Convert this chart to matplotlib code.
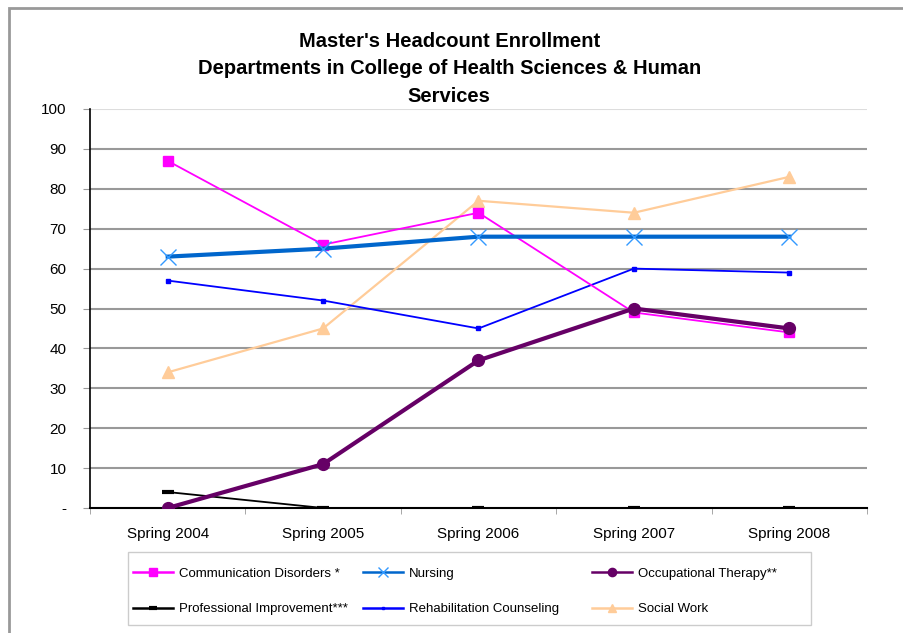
import matplotlib
matplotlib.use("Agg")
from matplotlib import pyplot as plt
from matplotlib.patches import Rectangle

plt.rcParams['font.family'] = ['Liberation Sans', 'DejaVu Sans']

# data
terms = ['Spring 2004', 'Spring 2005', 'Spring 2006', 'Spring 2007', 'Spring 2008']
comm_disorders = [87, 66, 74, 49, 44]
nursing = [63, 65, 68, 68, 68]
occ_therapy = [0, 11, 37, 50, 45]
prof_improvement = [4, 0, 0, 0, 0]
rehab_counseling = [57, 52, 45, 60, 59]
social_work = [34, 45, 77, 74, 83]

y_ticks = [0, 10, 20, 30, 40, 50, 60, 70, 80, 90, 100]
y_labels = ['-', '10', '20', '30', '40', '50', '60', '70', '80', '90', '100']

W, H = 904, 633
fig = plt.figure(figsize=(W / 100, H / 100), dpi=100)
ax = fig.add_axes([90 / W, 1 - 508 / H, (867 - 90) / W, (508 - 109) / H])

x = list(range(len(terms)))

# draw series (back to front roughly like the original)
l_sw, = ax.plot(x, social_work, color='#FFCC99', lw=1.6, marker='^', ms=9,
                label='Social Work', zorder=3)
l_rc, = ax.plot(x, rehab_counseling, color='#0000FF', lw=1.3, marker='s', ms=3,
                label='Rehabilitation Counseling', zorder=3)
l_pi, = ax.plot(x, prof_improvement, color='black', lw=1.3, marker='_', ms=9, mew=3,
                label='Professional Improvement***', zorder=3)
l_ot, = ax.plot(x, occ_therapy, color='#660066', lw=3, marker='o', ms=8.5,
                label='Occupational Therapy**', zorder=4)
l_cd, = ax.plot(x, comm_disorders, color='#FF00FF', lw=1.3, marker='s', ms=7.5,
                label='Communication Disorders *', zorder=3)
l_nu, = ax.plot(x, nursing, color='#0066CC', lw=3, marker='x', ms=11, mew=1,
                mec='#3399FF', label='Nursing', zorder=3)

# axes styling
ax.set_xlim(-0.5, len(terms) - 0.5)
ax.set_ylim(0, 100)
ax.set_yticks(y_ticks)
ax.set_yticklabels(y_labels)
ax.set_xticks(x)
ax.set_xticklabels(terms)
ax.set_xticks([i + 0.5 for i in range(-1, len(terms))], minor=True)
ax.tick_params(axis='x', which='major', length=0, pad=14, labelsize=11)
ax.tick_params(axis='x', which='minor', length=4, color='#999999', direction='out')
ax.tick_params(axis='y', length=5, color='#999999', direction='out', pad=12, labelsize=11)

ax.yaxis.grid(True, color='#999999', lw=1.5)
ax.get_ygridlines()[-1].set_color('#dddddd')
ax.get_ygridlines()[0].set_visible(False)
ax.set_axisbelow(True)
for side in ['top', 'right']:
    ax.spines[side].set_visible(False)
ax.spines['left'].set_linewidth(1.2)
ax.spines['bottom'].set_linewidth(1.5)

# title
fig.text(0.497, 1 - 69 / H,
         "Master's Headcount Enrollment\nDepartments in College of Health Sciences & Human\nServices",
         ha='center', va='center', fontsize=14.5, fontweight='bold', linespacing=1.56)

# legend: frame plus three equal-width columns
fig.patches.append(Rectangle((128 / W, 1 - 625 / H), (811 - 128) / W, (625 - 552) / H,
                             transform=fig.transFigure, fill=False,
                             edgecolor='#cccccc', lw=1))
columns = [[l_cd, l_pi], [l_nu, l_rc], [l_ot, l_sw]]
col_x = [133, 363, 592]
for handles, cx in zip(columns, col_x):
    leg = fig.legend(handles=handles, loc='center left',
                     bbox_to_anchor=(cx / W, 1 - 591.5 / H), frameon=False,
                     fontsize=9.5, handlelength=3, handletextpad=0.45,
                     labelspacing=1.75, borderpad=0, borderaxespad=0,
                     markerscale=0.7)
    for line in leg.get_lines():
        line.set_linewidth(1.8)

# outer chart border
fig.patches.append(Rectangle((9 / W, -0.1), 1.2, 1.1 - 8 / H,
                             transform=fig.transFigure, fill=False,
                             edgecolor='#999999', lw=2))

fig.savefig('out.png', dpi=100)
